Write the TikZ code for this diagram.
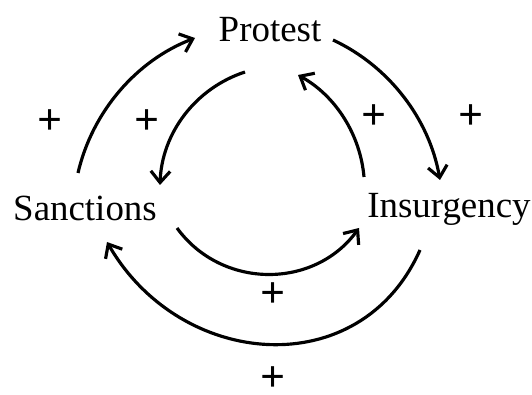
\documentclass[tikz,border=0pt]{standalone}
\usepackage{fontspec}
\setmainfont{Liberation Serif}
\usetikzlibrary{arrows.meta}

\begin{document}
\begin{tikzpicture}[x=0.2mm, y=0.2mm, line width=1.8pt,
  >={Straight Barb[length=6.5pt, width=11pt]},
  lbl/.style={anchor=base, inner sep=0pt, font=\fontsize{21}{25}\selectfont},
  sgn/.style={inner sep=0pt, font=\fontsize{25}{28}\selectfont\bfseries}]
  \useasboundingbox (0,0) rectangle (532,-395);

  \node[lbl] (P) at (270,-42)  {Protest};
  \node[lbl] (S) at (85,-221)  {Sanctions};
  \node[lbl] (I) at (449,-218) {Insurgency};

  % loop ends (start a, tip b)
  \coordinate (SPa) at (78,-173);   \coordinate (SPb) at (195,-38);
  \coordinate (PSa) at (245,-72);   \coordinate (PSb) at (160,-185);
  \coordinate (PIa) at (333,-40);   \coordinate (PIb) at (440,-180);
  \coordinate (IPa) at (364,-177);  \coordinate (IPb) at (298,-75);
  \coordinate (SIa) at (177,-228);  \coordinate (SIb) at (359,-228);
  \coordinate (ISa) at (420,-250);  \coordinate (ISb) at (107,-242);

  \draw[->] (SPa) to[out=77, in=-159, looseness=0.9] (SPb);
  \draw[->] (PSa) to[out=198, in=88, looseness=0.94] (PSb);
  \draw[->] (PIa) to[out=-25, in=100, looseness=0.9] (PIb);
  \draw[->] (IPa) to[out=95, in=-29, looseness=0.9] (IPb);
  \draw[->] (SIa) to[out=-54, in=-126, looseness=1.07] (SIb);
  \draw[->] (ISa) to[out=-114, in=-60, looseness=1.2] (ISb);

  \node[sgn] (o1) at (50,-122)  {+};   % outer left
  \node[sgn] (i1) at (147,-122) {+};
  \node[sgn] (i2) at (374,-117) {+};
  \node[sgn] (o2) at (471,-117) {+};   % outer right
  \node[sgn] (i3) at (273,-295) {+};
  \node[sgn] (o3) at (273,-379) {+};   % outer bottom
\end{tikzpicture}
\end{document}
